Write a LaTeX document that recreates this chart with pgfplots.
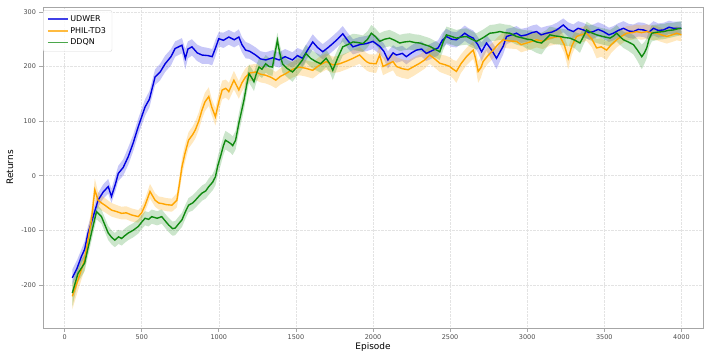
\documentclass[border=0pt]{standalone}
\usepackage{fontspec}
\setmainfont{DejaVu Sans}
\usepackage{pgfplots}
\usepackage{pgfplotstable}
\pgfplotsset{compat=1.18}
\usepgfplotslibrary{fillbetween}
\definecolor{mblue}{HTML}{0000E0}
\definecolor{morange}{HTML}{FFA500}
\definecolor{mgreen}{HTML}{108A10}

\pgfplotstableread{
x y lo hi
50 -187 -200 -172
80 -170 -182 -155
109 -148 -160 -135
130 -135 -150 -120
152 -105 -118 -92
180 -80 -92 -66
217 -45 -58 -32
250 -30 -42 -16
283 -20 -33 -6
304 -38 -50 -24
330 -15 -28 0
348 4 -10 18
380 15 0 30
413 35 20 52
445 60 45 75
478 90 75 105
522 126 110 140
550 140 125 155
587 181 166 195
620 190 175 205
652 205 190 220
690 218 202 232
717 233 218 246
761 239 224 252
783 215 195 232
800 232 215 246
826 236 220 250
860 225 210 240
891 221 205 236
930 220 205 234
957 218 202 232
980 235 220 250
1000 251 237 263
1030 248 234 262
1065 254 240 267
1100 249 235 262
1130 254 240 268
1150 240 226 254
1174 230 215 245
1200 228 214 242
1239 221 207 235
1270 214 200 228
1304 212 198 226
1350 216 202 230
1391 212 198 226
1430 218 204 232
1478 212 198 226
1510 220 206 234
1543 215 200 230
1580 232 218 246
1609 245 231 259
1640 235 221 249
1674 227 213 241
1710 235 221 249
1739 242 228 256
1770 250 236 264
1804 260 246 274
1835 248 234 262
1870 236 222 250
1913 240 226 254
1957 242 228 256
2000 246 232 260
2043 237 223 251
2070 228 214 242
2097 212 196 228
2130 225 211 239
2152 221 207 235
2190 224 210 238
2216 218 204 232
2250 225 211 239
2281 230 216 244
2315 232 218 246
2346 224 210 238
2390 230 216 244
2422 234 220 248
2450 248 234 262
2476 255 241 269
2510 250 236 264
2541 249 235 263
2570 255 241 269
2595 261 247 275
2620 256 242 270
2650 252 238 266
2680 240 226 254
2704 227 210 244
2736 243 229 257
2770 230 212 246
2801 215 195 232
2830 230 214 246
2844 237 222 252
2866 255 241 269
2900 258 245 271
2931 261 248 274
2960 256 243 269
2996 258 245 271
3030 262 249 275
3061 264 251 277
3090 258 245 271
3126 261 248 274
3160 263 250 276
3191 267 254 280
3234 276 263 288
3265 268 255 281
3299 264 251 277
3330 270 257 283
3364 267 254 280
3400 262 249 275
3429 264 251 277
3460 268 255 281
3494 264 251 277
3530 258 245 271
3559 261 248 274
3590 266 253 279
3624 270 257 283
3660 265 252 278
3689 264 251 277
3720 268 255 281
3754 267 254 280
3790 263 250 276
3819 270 257 283
3850 266 253 279
3884 267 254 280
3920 272 260 284
3948 270 258 282
4000 270 258 282
}\udwer

\pgfplotstableread{
x y lo hi
50 -221 -245 -200
87 -191 -210 -172
130 -154 -172 -136
174 -81 -100 -62
196 -26 -45 -5
217 -45 -60 -30
240 -50 -64 -36
261 -54 -67 -41
304 -63 -75 -50
340 -66 -78 -54
370 -69 -80 -57
400 -68 -80 -56
435 -72 -84 -60
478 -75 -86 -63
500 -68 -80 -56
522 -54 -66 -42
554 -29 -42 -15
587 -45 -57 -32
610 -50 -62 -38
630 -51 -63 -39
660 -53 -65 -41
696 -54 -66 -42
728 -45 -58 -32
745 -15 -30 0
761 16 0 32
780 40 24 56
804 65 50 80
830 75 60 90
848 84 68 100
870 100 84 116
891 120 104 136
910 135 118 152
935 145 128 162
955 125 110 140
978 108 92 124
1000 135 118 152
1022 157 140 174
1045 160 143 176
1065 154 138 170
1098 175 158 192
1130 157 141 173
1150 170 154 186
1174 181 165 197
1200 188 173 203
1239 190 175 205
1270 186 171 201
1304 184 169 199
1340 180 165 195
1370 175 160 190
1400 182 167 197
1435 187 172 202
1480 195 180 210
1522 199 184 214
1560 197 182 212
1609 193 178 208
1650 202 187 217
1696 209 194 224
1740 203 188 218
1783 205 190 220
1830 210 195 225
1870 215 200 230
1913 221 205 236
1957 209 193 225
1978 206 190 222
2020 205 188 222
2043 221 205 237
2065 200 184 216
2100 205 189 221
2130 209 193 225
2152 200 183 217
2190 196 179 213
2227 194 177 211
2265 200 183 217
2303 206 190 222
2335 212 196 228
2368 221 205 237
2400 214 198 230
2433 206 190 222
2470 203 186 220
2498 200 183 217
2520 195 178 212
2541 191 170 210
2570 205 188 222
2606 218 202 234
2630 225 209 241
2650 230 214 246
2665 215 198 232
2682 191 170 210
2700 198 180 216
2714 209 193 225
2745 220 205 235
2779 230 215 245
2810 240 226 254
2844 249 235 263
2880 247 233 261
2931 246 232 260
2960 240 226 254
2996 243 229 257
3030 246 232 260
3061 249 235 263
3100 246 232 260
3147 252 238 266
3180 254 240 268
3212 255 241 269
3240 240 225 255
3266 215 195 235
3290 238 222 254
3320 255 241 269
3350 258 244 272
3385 261 247 275
3420 250 235 265
3450 234 215 250
3480 236 218 252
3515 230 212 246
3545 240 225 255
3580 249 235 263
3610 255 241 269
3645 261 248 274
3680 262 249 275
3710 264 251 277
3740 262 249 275
3775 264 251 277
3805 262 249 275
3840 261 248 274
3870 258 245 271
3905 255 242 268
3940 258 245 271
3970 261 248 274
4000 258 246 270
}\phil

\pgfplotstableread{
x y lo hi
50 -215 -240 -195
87 -179 -195 -163
130 -160 -175 -145
174 -105 -120 -90
207 -66 -80 -52
239 -75 -88 -62
261 -90 -103 -77
283 -105 -118 -92
305 -113 -126 -100
326 -118 -131 -105
350 -112 -125 -99
370 -115 -128 -102
390 -110 -123 -97
413 -105 -118 -92
445 -100 -113 -87
478 -93 -106 -80
500 -85 -98 -72
522 -78 -91 -65
545 -80 -93 -67
565 -75 -88 -62
600 -78 -91 -65
630 -75 -88 -62
650 -82 -95 -69
674 -90 -103 -77
700 -97 -110 -84
717 -96 -109 -83
740 -88 -101 -75
761 -81 -94 -68
785 -65 -78 -52
804 -54 -67 -41
830 -50 -64 -36
848 -45 -59 -31
870 -38 -52 -24
891 -32 -46 -18
915 -28 -42 -14
935 -20 -35 -5
960 -12 -27 3
978 -2 -18 14
995 20 3 37
1011 35 18 52
1030 55 38 72
1043 65 48 82
1060 62 45 79
1076 59 42 76
1090 55 38 72
1109 65 48 82
1130 96 78 114
1145 115 97 133
1163 138 120 156
1180 165 148 182
1196 187 170 204
1212 180 163 197
1228 172 155 189
1245 188 172 204
1261 199 183 215
1280 195 179 211
1304 205 189 221
1325 200 184 216
1348 199 183 215
1365 225 209 241
1380 248 232 262
1395 225 209 241
1413 205 189 221
1445 196 180 212
1478 190 172 208
1510 200 184 216
1543 212 196 228
1565 224 208 240
1595 215 199 231
1630 209 193 225
1660 205 189 221
1696 215 199 231
1720 205 189 221
1739 193 175 211
1770 215 199 231
1804 236 220 252
1835 240 225 255
1870 245 230 260
1900 244 229 259
1935 242 227 257
1965 250 235 265
1989 261 246 276
2015 255 240 270
2043 246 231 261
2075 250 235 265
2108 252 237 267
2140 248 233 263
2173 243 228 258
2205 245 230 260
2238 246 231 261
2270 244 229 259
2303 243 228 258
2335 240 225 255
2368 237 222 252
2400 232 217 247
2433 227 212 242
2455 245 230 260
2476 258 243 273
2510 255 240 270
2541 252 237 267
2575 254 239 269
2606 255 240 270
2640 250 235 265
2671 246 231 261
2710 252 237 267
2758 261 246 276
2790 262 247 277
2823 264 249 279
2855 262 247 277
2888 261 246 276
2930 255 240 270
2974 252 237 267
3000 250 232 266
3028 249 230 266
3060 245 225 262
3093 243 222 262
3120 250 233 266
3147 258 243 273
3180 256 241 271
3212 255 240 270
3245 253 238 268
3277 252 237 267
3310 248 233 263
3342 243 225 260
3365 255 240 270
3385 267 252 282
3415 262 247 277
3450 258 243 273
3490 255 240 270
3537 252 237 267
3560 256 241 271
3580 261 246 276
3600 255 240 270
3624 249 234 264
3655 245 229 261
3689 240 222 258
3715 230 210 250
3743 218 195 240
3760 225 205 245
3775 234 215 252
3790 250 235 265
3808 261 246 276
3845 263 249 277
3884 264 250 278
3915 266 252 280
3948 267 254 280
3975 269 256 282
4000 270 257 283
}\ddqn

\begin{document}
\begin{tikzpicture}
\begin{axis}[
  at={(0,0)}, anchor=south west,
  scale only axis, width=660bp, height=321bp,
  xmin=-140, xmax=4140, ymin=-279, ymax=309,
  xtick={0,500,...,4000}, ytick={-200,-100,0,100,200,300},
  scaled x ticks=false,
  /pgf/number format/1000 sep={},
  /pgf/number format/assume math mode=true,
  tick label style={font=\fontsize{6.5}{8}\selectfont, text=black!70},
  tick align=outside, major tick length=3.5bp,
  tick style={gray!70, line width=0.6pt},
  xtick pos=bottom, ytick pos=left,
  grid=major, grid style={gray!22, densely dotted, line width=0.5pt},
  axis line style={gray!70, line width=1pt},
  xlabel={Episode}, ylabel={Returns},
  label style={font=\fontsize{9}{11}\selectfont},
  xlabel style={at={(axis description cs:0.5,-0.06)}, anchor=center},
  ylabel style={at={(axis description cs:-0.05,0.5)}, anchor=center},
  legend style={at={(axis description cs:0.0,0.99)}, anchor=north west,
    font=\fontsize{8}{10}\selectfont, draw=gray!30, rounded corners=2pt,
    fill=white, fill opacity=0.85, text opacity=1, draw opacity=1, row sep=0.5pt,
    inner xsep=4pt, inner ysep=3pt},
  legend cell align=left,
  legend image code/.code={\draw[#1, line width=1.3pt, opacity=0.75] (0cm,0cm) -- (0.7cm,0cm);},
]
% bands
\addplot[draw=none, forget plot, name path=ul] table[x=x,y=lo]{\udwer};
\addplot[draw=none, forget plot, name path=uh] table[x=x,y=hi]{\udwer};
\addplot[mblue, fill opacity=0.22, draw=none, forget plot] fill between[of=ul and uh];
\addplot[draw=none, forget plot, name path=pl] table[x=x,y=lo]{\phil};
\addplot[draw=none, forget plot, name path=ph] table[x=x,y=hi]{\phil};
\addplot[morange, fill opacity=0.25, draw=none, forget plot] fill between[of=pl and ph];
\addplot[draw=none, forget plot, name path=dl] table[x=x,y=lo]{\ddqn};
\addplot[draw=none, forget plot, name path=dh] table[x=x,y=hi]{\ddqn};
\addplot[mgreen, fill opacity=0.22, draw=none, forget plot] fill between[of=dl and dh];
% lines
\addplot[mblue, line width=1.4pt] table[x=x,y=y]{\udwer};
\addlegendentry{UDWER}
\addplot[morange, line width=1.4pt] table[x=x,y=y]{\phil};
\addlegendentry{PHIL-TD3}
\addplot[mgreen, line width=1.4pt] table[x=x,y=y]{\ddqn};
\addlegendentry{DDQN}
\end{axis}
\pgfresetboundingbox
\path[use as bounding box] (-43bp,-25bp) rectangle (661bp,328bp);
\end{tikzpicture}
\end{document}
